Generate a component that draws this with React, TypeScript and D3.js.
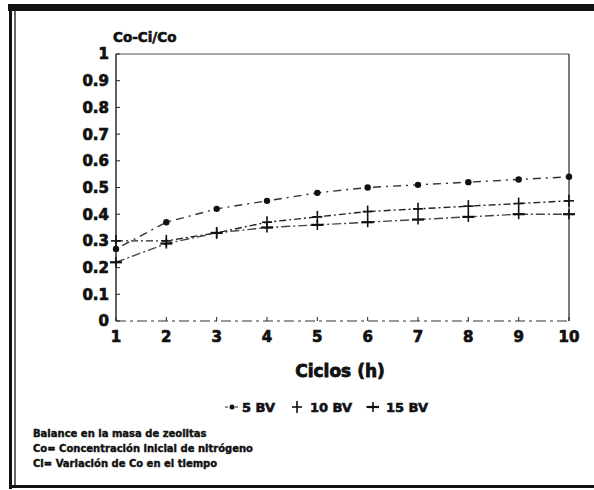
import React from "react";
import * as d3 from "d3";

const cycles = [1, 2, 3, 4, 5, 6, 7, 8, 9, 10];
const bv5 = [0.27, 0.37, 0.42, 0.45, 0.48, 0.5, 0.51, 0.52, 0.53, 0.54];
const bv10 = [0.3, 0.3, 0.33, 0.37, 0.39, 0.41, 0.42, 0.43, 0.44, 0.45];
const bv15 = [0.22, 0.29, 0.33, 0.35, 0.36, 0.37, 0.38, 0.39, 0.4, 0.4];
const seriesNames = ["5 BV", "10 BV", "15 BV"];
const yTicks = [0, 0.1, 0.2, 0.3, 0.4, 0.5, 0.6, 0.7, 0.8, 0.9, 1];
const yTickLabels = ["0", "0.1", "0.2", "0.3", "0.4", "0.5", "0.6", "0.7", "0.8", "0.9", "1"];
const notes = [
  "Balance en la masa de zeolitas",
  "Co= Concentración inicial de nitrógeno",
  "Ci= Variación de Co en el tiempo",
];

const W = 594;
const H = 490;
const FONT = "'DejaVu Sans', 'Liberation Sans', Arial, sans-serif";

function Marker({ kind, x, y }: { kind: number; x: number; y: number }) {
  if (kind === 0) return <circle cx={x} cy={y} r={3.2} fill="#111" />;
  if (kind === 1)
    return (
      <g stroke="#111" strokeWidth={1.6}>
        <line x1={x - 5} x2={x + 5} y1={y} y2={y} />
        <line x1={x} x2={x} y1={y - 6} y2={y + 6} />
      </g>
    );
  return (
    <g stroke="#111">
      <line x1={x - 6} x2={x + 6} y1={y} y2={y} strokeWidth={2.2} />
      <line x1={x} x2={x} y1={y - 5} y2={y + 5} strokeWidth={1.6} />
    </g>
  );
}

export default function App() {
  const x = d3.scaleLinear().domain([1, 10]).range([116, 569]);
  const y = d3.scaleLinear().domain([0, 1]).range([321, 54]);
  const all = [bv5, bv10, bv15];
  const dashes = ["2,5,8,5", "7,3,2,3", "9,3,2,3"];
  const strokes = ["#333", "#222", "#444"];
  const line = d3
    .line<number>()
    .x((_, i) => x(cycles[i]))
    .y((d) => y(d));

  const bold = { fontFamily: FONT, fontWeight: 700 as const, fill: "#111", stroke: "#111" };

  return (
    <svg width={W} height={H} style={{ position: "absolute", left: 0, top: 0, background: "#fff" }}>
      <rect x={0} y={0} width={W} height={H} fill="#fff" />
      {/* frame */}
      <rect x={8} y={4} width={W - 8} height={7} fill="#111" />
      <line x1={10.5} x2={10.5} y1={4} y2={489} stroke="#111" strokeWidth={3} />
      <line x1={15} x2={15} y1={11} y2={486} stroke="#333" strokeWidth={1.5} />
      <line x1={9} x2={W} y1={486.5} y2={486.5} stroke="#111" strokeWidth={3} />

      {/* plot box */}
      <line x1={x(1)} x2={x(10)} y1={y(1)} y2={y(1)} stroke="#555" strokeWidth={1.2} />
      <line x1={x(10)} x2={x(10)} y1={y(1)} y2={y(0)} stroke="#444" strokeWidth={1.4} />
      <line x1={x(1)} x2={x(1)} y1={y(1)} y2={y(0)} stroke="#222" strokeWidth={1.4} />
      <line x1={x(1)} x2={x(10)} y1={y(0)} y2={y(0)} stroke="#333" strokeWidth={1.2} strokeDasharray="10,4,3,4" />

      {yTicks.map((t, i) => (
        <g key={"yt" + i}>
          <line x1={x(1)} x2={x(1) + 4} y1={y(t)} y2={y(t)} stroke="#222" strokeWidth={1} />
          <text x={109} y={y(t)} dy="0.36em" textAnchor="end" fontSize={15} strokeWidth={0.7} {...bold}>
            {yTickLabels[i]}
          </text>
        </g>
      ))}
      {cycles.map((c) => (
        <g key={"xt" + c}>
          <line x1={x(c)} x2={x(c)} y1={y(0)} y2={y(0) - 4} stroke="#222" strokeWidth={1} />
          <text x={x(c)} y={337} dy="0.36em" textAnchor="middle" fontSize={15} strokeWidth={0.7} {...bold}>
            {c}
          </text>
        </g>
      ))}

      <text x={113} y={42} fontSize={13.5} strokeWidth={0.6} {...bold}>
        Co-Ci/Co
      </text>

      {all.map((s, k) => (
        <g key={"s" + k}>
          <path d={line(s) || ""} fill="none" stroke={strokes[k]} strokeWidth={1.4} strokeDasharray={dashes[k]} />
          {s.map((v, i) => (
            <Marker key={i} kind={k} x={x(cycles[i])} y={y(v)} />
          ))}
        </g>
      ))}

      <text x={340} y={371} dy="0.36em" textAnchor="middle" fontSize={17} strokeWidth={0.8} {...bold}>
        Ciclos (h)
      </text>

      {/* legend */}
      {[
        { mx: 232, tx: 242 },
        { mx: 297, tx: 310 },
        { mx: 373, tx: 386 },
      ].map((p, k) => (
        <g key={"lg" + k}>
          {k !== 1 && (
            <line x1={p.mx - 7} x2={p.mx + 7} y1={407} y2={407} stroke="#222" strokeWidth={1} strokeDasharray="3,2" />
          )}
          {k === 0 ? (
            <circle cx={p.mx} cy={407} r={2.5} fill="#111" />
          ) : (
            <Marker kind={k} x={p.mx} y={407} />
          )}
          <text x={p.tx} y={407} dy="0.36em" fontSize={13} strokeWidth={0.6} {...bold}>
            {seriesNames[k]}
          </text>
        </g>
      ))}

      {notes.map((n, i) => (
        <text key={"n" + i} x={33} y={433 + i * 15} dy="0.36em" fontSize={10} strokeWidth={0.4} {...bold}>
          {n}
        </text>
      ))}
    </svg>
  );
}
